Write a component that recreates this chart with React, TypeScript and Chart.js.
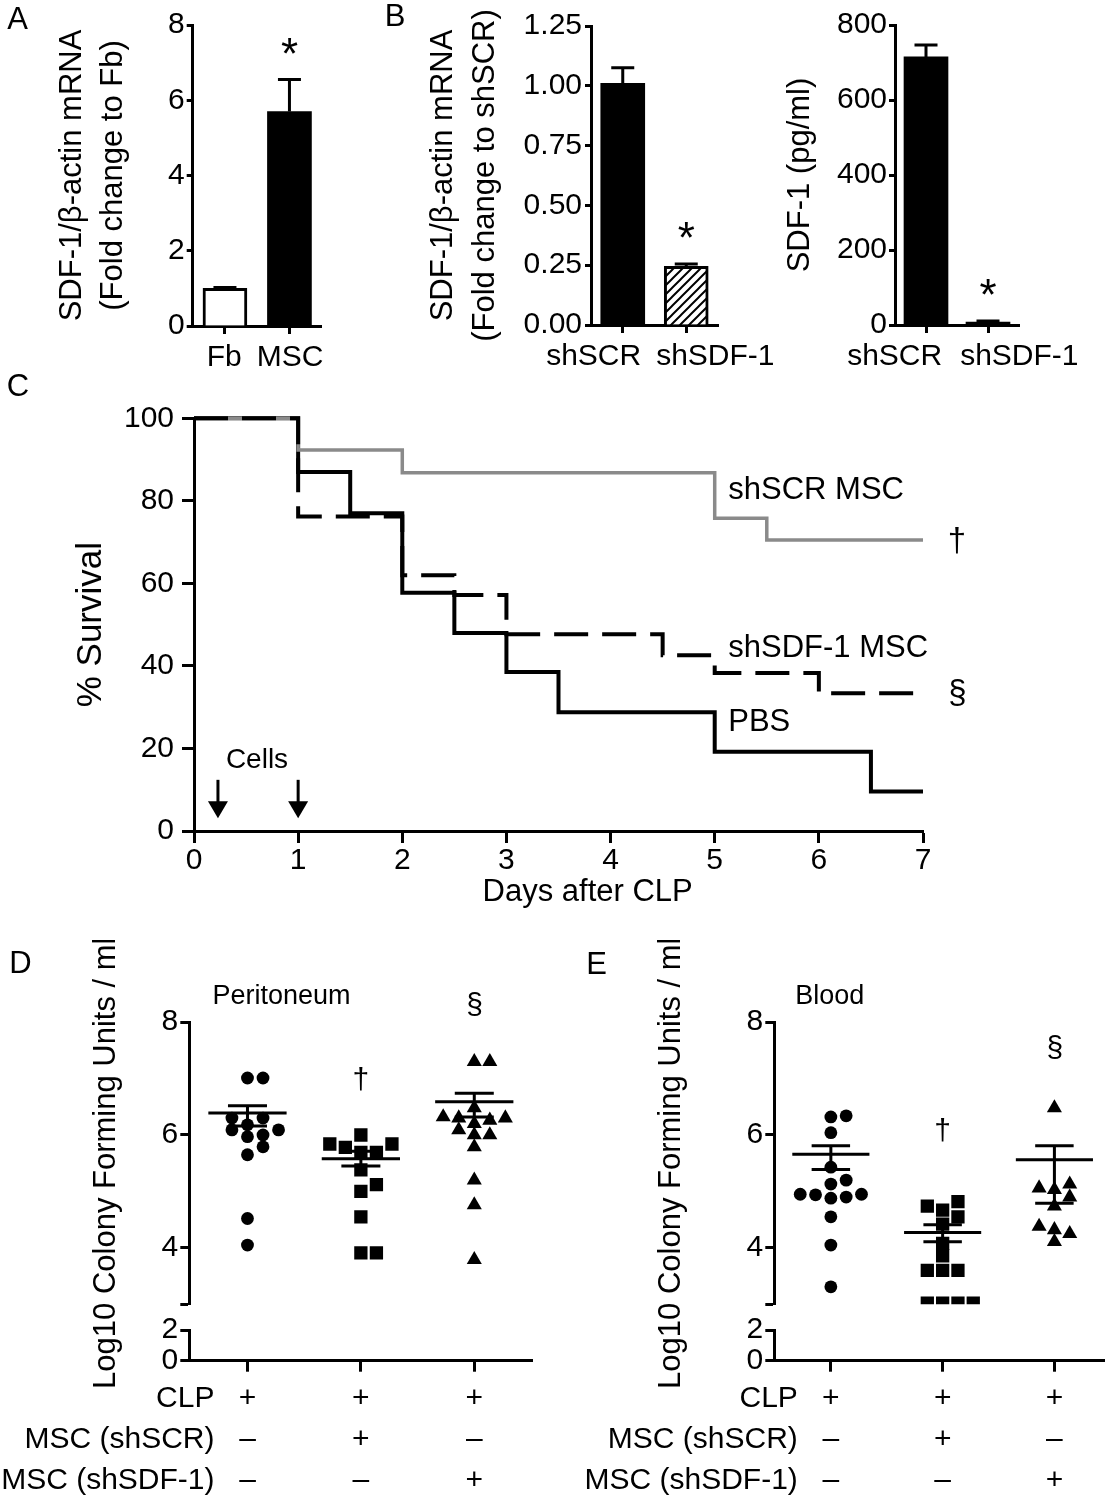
import React, { useEffect, useRef } from 'react';
import { Chart, registerables } from 'chart.js';

Chart.register(...registerables);

const FF = '"Liberation Sans", Arial, Helvetica, sans-serif';
const INK = '#000000';
const GREY = '#8a8a8a';
const TICK_PX = 30;

// ---------------- Panel A ----------------
const aLabels = ['Fb', 'MSC'];
const aValues = [1.0, 5.7];
const aErrors = [0.02, 0.85];
const aSignif = ['', '*'];
const aYTicks = [0, 2, 4, 6, 8];

// ---------------- Panel B ----------------
const bLabels = ['shSCR', 'shSDF-1'];
const bMrnaValues = [1.01, 0.245];
const bMrnaErrors = [0.065, 0.01];
const bMrnaSignif = ['', '*'];
const bMrnaTicks = [0, 0.25, 0.5, 0.75, 1.0, 1.25];
const bElisaValues = [715, 8];
const bElisaErrors = [32, 3];
const bElisaSignif = ['', '*'];
const bElisaTicks = [0, 200, 400, 600, 800];

// ---------------- Panel C ----------------
const pbsDays = [0, 1, 1.5, 2, 2.5, 3, 3.5, 5, 6.5, 7];
const pbsSurvival = [100, 87, 77, 57.7, 48, 38.5, 28.8, 19.2, 9.6, 9.6];
const scrDays = [0, 1, 2, 5, 5.5, 7];
const scrSurvival = [100, 92.3, 86.8, 75.8, 70.5, 70.5];
const sdfDays = [0, 1, 2, 2.5, 3, 4.5, 5, 6, 7];
const sdfSurvival = [100, 76.2, 62, 57.2, 47.7, 42.6, 38.3, 33.4, 33.4];
const cXTicks = [0, 1, 2, 3, 4, 5, 6, 7];
const cYTicks = [0, 20, 40, 60, 80, 100];
const cellInjectionDays = [0.23, 1];
const cSeriesLabels = [
  { text: 'shSCR MSC', x: 5.13, y: 82.6 },
  { text: 'shSDF-1 MSC', x: 5.13, y: 44.3 },
  { text: 'PBS', x: 5.13, y: 26.2 },
];
const cSignif = [
  { text: '†', x: 7.33, y: 70.5 },
  { text: '§', x: 7.33, y: 33.5 },
];

// ---------------- Panels D / E ----------------
const rowTitles = ['CLP', 'MSC (shSCR)', 'MSC (shSDF-1)'];
const rowCLP = ['+', '+', '+'];
const rowShSCR = ['–', '+', '–'];
const rowShSDF = ['–', '–', '+'];
const cfuUpperTicks = [3, 4, 6, 8];
const cfuLowerTicks = [0, 2];
const cfuBreakTick = 3;

const periPBS = [7.01, 7.01, 6.3, 6.3, 6.18, 6.09, 6.09, 6.0, 5.97, 5.79, 5.65, 4.52, 4.05];
const periShSCR = [6.0, 5.84, 5.84, 5.78, 5.69, 5.69, 5.38, 5.12, 5.0, 4.55, 3.91, 3.91];
const periShSDF = [7.3, 7.3, 6.48, 6.32, 6.3, 6.3, 6.26, 6.2, 6.09, 6.0, 6.0, 5.79, 5.2, 4.76, 3.79];
const periMean = [6.39, 5.58, 6.59];
const periSemHigh = [6.52, 5.71, 6.74];
const periSemLow = [6.16, 5.45, 6.32];

const bloodPBS = [6.34, 6.32, 6.04, 5.43, 5.2, 5.13, 4.95, 4.9, 4.88, 4.94, 4.95, 4.55, 4.05, 3.31];
const bloodShSCR = [4.82, 4.74, 4.67, 4.55, 4.42, 4.08, 3.86, 3.6, 3.6, 3.6, 3.02, 3.02, 3.02, 3.02];
const bloodShSDF = [6.48, 5.13, 5.03, 5.06, 4.9, 4.74, 4.38, 4.32, 4.25, 4.11];
const bloodMean = [5.66, 4.27, 5.56];
const bloodSemHigh = [5.81, 4.41, 5.81];
const bloodSemLow = [5.39, 4.11, 4.79];

const panelLetters = [
  { t: 'A', x: 17.5, y: 17.5 },
  { t: 'B', x: 395, y: 15 },
  { t: 'C', x: 18, y: 385 },
  { t: 'D', x: 20.5, y: 962 },
  { t: 'E', x: 596.5, y: 963 },
];

// ---------------- helpers ----------------
function font(size: number, lh = 1.2) {
  return { family: FF, size, lineHeight: lh, weight: 'normal' as any };
}
function tickGrid(len: number, extra: any = {}) {
  return { display: true, drawOnChartArea: false, drawTicks: true, tickLength: len, tickWidth: 3, color: INK, tickColor: INK, ...extra };
}
const axisLine = { display: true, color: INK, width: 3 };

function inkCentered(ctx: CanvasRenderingContext2D, text: string, cx: number, cy: number) {
  ctx.textAlign = 'left';
  ctx.textBaseline = 'alphabetic';
  const m = ctx.measureText(text);
  const l = m.actualBoundingBoxLeft, r = m.actualBoundingBoxRight;
  const a = m.actualBoundingBoxAscent, d = m.actualBoundingBoxDescent;
  ctx.fillText(text, cx - (r - l) / 2, cy + (a - d) / 2);
}

function hatchPattern(): any {
  const s = 9;
  const c = document.createElement('canvas');
  c.width = s; c.height = s;
  const g = c.getContext('2d')!;
  g.fillStyle = '#ffffff';
  g.fillRect(0, 0, s, s);
  g.strokeStyle = INK;
  g.lineWidth = 2;
  g.beginPath();
  g.moveTo(-1, s + 1); g.lineTo(s + 1, -1);
  g.moveTo(-s / 2 - 1, s / 2 + 1); g.lineTo(s / 2 + 1, -s / 2 - 1);
  g.moveTo(s / 2 - 1, s * 1.5 + 1); g.lineTo(s * 1.5 + 1, s / 2 - 1);
  g.stroke();
  return g.createPattern(c, 'repeat');
}

function barErrorPlugin(errors: number[], signif: string[]) {
  return {
    id: 'barErrors',
    afterDatasetsDraw(chart: any) {
      const ctx: CanvasRenderingContext2D = chart.ctx;
      const ys = chart.scales.y;
      const meta = chart.getDatasetMeta(0);
      const vals = chart.data.datasets[0].data;
      ctx.save();
      ctx.strokeStyle = INK;
      ctx.fillStyle = INK;
      ctx.lineWidth = 3;
      meta.data.forEach((bar: any, i: number) => {
        const yv = ys.getPixelForValue(vals[i]);
        const yt = ys.getPixelForValue(vals[i] + errors[i]);
        ctx.beginPath();
        ctx.moveTo(bar.x, yv);
        ctx.lineTo(bar.x, yt);
        ctx.moveTo(bar.x - 11.5, yt);
        ctx.lineTo(bar.x + 11.5, yt);
        ctx.stroke();
        if (signif[i]) {
          ctx.font = `44px ${FF}`;
          inkCentered(ctx, signif[i], bar.x, yt - 34);
        }
      });
      ctx.restore();
    },
  };
}

// category labels under the bars; pushed apart symmetrically when they would touch
function spreadLabelsPlugin(gap: number) {
  return {
    id: 'spreadLabels',
    afterDraw(chart: any) {
      const ctx: CanvasRenderingContext2D = chart.ctx;
      const x = chart.scales.x;
      const labels: string[] = chart.data.labels;
      ctx.save();
      ctx.font = `${TICK_PX}px ${FF}`;
      ctx.fillStyle = INK;
      ctx.textAlign = 'center';
      ctx.textBaseline = 'middle';
      const centers = labels.map((_l, i) => x.getPixelForTick(i));
      const widths = labels.map(l => ctx.measureText(l).width);
      const need = (widths[0] + widths[1]) / 2 + gap;
      const dist = centers[1] - centers[0];
      if (dist < need) {
        const mid = (centers[0] + centers[1]) / 2;
        centers[0] = mid - need / 2;
        centers[1] = mid + need / 2;
      }
      const y = chart.chartArea.bottom + 31.5;
      labels.forEach((l, i) => ctx.fillText(l, centers[i], y));
      ctx.restore();
    },
  };
}

function barConfig(s: any) {
  return {
    type: 'bar',
    data: {
      labels: s.labels,
      datasets: [{
        data: s.values,
        backgroundColor: s.fills,
        borderColor: INK,
        borderWidth: s.borderWidths,
        barThickness: 44,
      }],
    },
    options: {
      animation: false,
      responsive: false,
      devicePixelRatio: 1,
      events: [],
      layout: { padding: { left: s.padLeft, top: s.top, right: s.padRight, bottom: 0 } },
      plugins: { legend: { display: false }, tooltip: { enabled: false } },
      scales: {
        x: {
          type: 'category',
          offset: true,
          grid: tickGrid(8, { offset: false }),
          border: axisLine,
          ticks: { display: false },
          afterFit: (sc: any) => { sc.height = s.xHeight; },
        },
        y: {
          type: 'linear',
          min: s.ticks[0],
          max: s.ticks[s.ticks.length - 1],
          afterBuildTicks: (sc: any) => { sc.ticks = s.ticks.map((v: number) => ({ value: v })); },
          grid: tickGrid(6),
          border: axisLine,
          ticks: { font: font(TICK_PX), color: INK, padding: s.tickPad, autoSkip: false, callback: (v: any) => s.fmt(Number(v)) },
          title: { display: true, text: s.title, font: font(31, s.titleLH / 31), color: INK, padding: 0 },
          afterFit: (sc: any) => { sc.width = s.yWidth; },
        },
      },
    },
    plugins: [barErrorPlugin(s.errors, s.signif), spreadLabelsPlugin(s.labelGap)],
  };
}

function buildA() {
  return barConfig({
    labels: aLabels, values: aValues, errors: aErrors, signif: aSignif, ticks: aYTicks,
    fmt: (v: number) => String(v), fills: ['#ffffff', INK], borderWidths: [3, 0],
    title: ['SDF-1/β-actin mRNA', '(Fold change to Fb)'], titleLH: 41,
    padLeft: 51.5, yWidth: 141.2, top: 25, padRight: 48.3, xHeight: 54, tickPad: 2, labelGap: 15,
  });
}
function buildB1() {
  return barConfig({
    labels: bLabels, values: bMrnaValues, errors: bMrnaErrors, signif: bMrnaSignif, ticks: bMrnaTicks,
    fmt: (v: number) => v.toFixed(2), fills: [INK, hatchPattern()], borderWidths: [0, 3],
    title: ['SDF-1/β-actin mRNA', '(Fold change to shSCR)'], titleLH: 42,
    padLeft: 47.3, yWidth: 168.7, top: 26, padRight: 77, xHeight: 55, tickPad: 3, labelGap: 15,
  });
}
function buildB2() {
  return barConfig({
    labels: bLabels, values: bElisaValues, errors: bElisaErrors, signif: bElisaSignif, ticks: bElisaTicks,
    fmt: (v: number) => String(v), fills: [INK, INK], borderWidths: [0, 0],
    title: 'SDF-1 (pg/ml)', titleLH: 41,
    padLeft: 29.5, yWidth: 115.5, top: 25, padRight: 95, xHeight: 55, tickPad: 2, labelGap: 18,
  });
}

function toPts(xs: number[], ys: number[]) {
  return xs.map((x, i) => ({ x, y: ys[i] }));
}

function buildC() {
  const extras = {
    id: 'survivalExtras',
    afterDraw(chart: any) {
      const ctx: CanvasRenderingContext2D = chart.ctx;
      const x = chart.scales.x, y = chart.scales.y;
      ctx.save();
      ctx.fillStyle = INK;
      ctx.strokeStyle = INK;
      ctx.font = `31px ${FF}`;
      ctx.textAlign = 'left';
      ctx.textBaseline = 'middle';
      cSeriesLabels.forEach(l => ctx.fillText(l.text, x.getPixelForValue(l.x), y.getPixelForValue(l.y)));
      ctx.font = `33px ${FF}`;
      cSignif.forEach(l => inkCentered(ctx, l.text, x.getPixelForValue(l.x), y.getPixelForValue(l.y)));
      // cell injections
      ctx.font = `28px ${FF}`;
      ctx.textAlign = 'center';
      ctx.textBaseline = 'middle';
      ctx.fillText('Cells', x.getPixelForValue(0.605), y.getPixelForValue(17.2));
      cellInjectionDays.forEach(d => {
        const px = x.getPixelForValue(d);
        const y0 = y.getPixelForValue(12.4);
        const y1 = y.getPixelForValue(3.1);
        ctx.lineWidth = 3;
        ctx.beginPath();
        ctx.moveTo(px, y0);
        ctx.lineTo(px, y1 - 12);
        ctx.stroke();
        ctx.beginPath();
        ctx.moveTo(px - 10, y1 - 17);
        ctx.lineTo(px + 10, y1 - 17);
        ctx.lineTo(px, y1);
        ctx.closePath();
        ctx.fill();
      });
      // x-axis title
      ctx.font = `31px ${FF}`;
      ctx.textAlign = 'center';
      ctx.textBaseline = 'middle';
      ctx.fillText('Days after CLP', x.getPixelForValue(3.78), chart.chartArea.bottom + 61);
      ctx.restore();
    },
  };
  const common = { stepped: 'before', pointRadius: 0, fill: false, borderCapStyle: 'butt', borderJoinStyle: 'miter', clip: false };
  return {
    type: 'line',
    data: {
      datasets: [
        { label: 'shSDF-1 MSC', data: toPts(sdfDays, sdfSurvival), borderColor: INK, borderWidth: 4, borderDash: [34, 14], ...common },
        { label: 'shSCR MSC', data: toPts(scrDays, scrSurvival), borderColor: GREY, borderWidth: 3.5, ...common },
        { label: 'PBS', data: toPts(pbsDays, pbsSurvival), borderColor: INK, borderWidth: 4, ...common },
      ],
    },
    options: {
      animation: false,
      responsive: false,
      devicePixelRatio: 1,
      events: [],
      layout: { padding: { left: 71, top: 43.3, right: 191, bottom: 0 } },
      plugins: { legend: { display: false }, tooltip: { enabled: false } },
      scales: {
        x: {
          type: 'linear', min: 0, max: 7,
          afterBuildTicks: (sc: any) => { sc.ticks = cXTicks.map(v => ({ value: v })); },
          grid: tickGrid(12),
          border: axisLine,
          ticks: { font: font(TICK_PX), color: INK, padding: 0, maxRotation: 0, autoSkip: false },
          afterFit: (sc: any) => { sc.height = 89; },
        },
        y: {
          type: 'linear', min: 0, max: 100,
          afterBuildTicks: (sc: any) => { sc.ticks = cYTicks.map(v => ({ value: v })); },
          grid: tickGrid(12),
          border: axisLine,
          ticks: { font: font(TICK_PX), color: INK, padding: 8, autoSkip: false },
          title: { display: true, text: '% Survival', font: font(35, 40 / 35), color: INK, padding: 0 },
          afterFit: (sc: any) => { sc.width = 123; },
        },
      },
    },
    plugins: [extras],
  };
}

// simple beeswarm: place each value in the nearest free column slot
function swarm(values: number[], center: number) {
  const slot = 0.137;
  const minDy = 0.2;
  const order = values.map((_v, i) => i).sort((a, b) => values[a] - values[b]);
  const placed: { v: number; s: number }[] = [];
  const out: any[] = new Array(values.length);
  const candidates = [0, 1, -1, 2, -2, 3, -3, 4, -4];
  for (const i of order) {
    const v = values[i];
    for (const s of candidates) {
      if (placed.every(p => p.s !== s || Math.abs(p.v - v) >= minDy)) {
        placed.push({ v, s });
        out[i] = { x: center + s * slot, y: v };
        break;
      }
    }
  }
  return out;
}

function cfuConfig(s: any) {
  const styles = ['circle', 'rect', 'triangle'];
  const radii = [6.4, 9.4, 8.7];
  const datasets = s.groups.map((vals: number[], g: number) => ({
    data: swarm(vals, g + 1),
    pointStyle: styles[g],
    pointRadius: radii[g],
    pointBackgroundColor: INK,
    pointBorderColor: INK,
    pointBorderWidth: 0,
    showLine: false,
  }));
  const lh = 41;
  const extras = {
    id: 'cfuExtras',
    afterDatasetsDraw(chart: any) {
      const ctx: CanvasRenderingContext2D = chart.ctx;
      const x = chart.scales.x, y = chart.scales.y;
      ctx.save();
      ctx.strokeStyle = INK;
      ctx.lineWidth = 3;
      for (let g = 0; g < 3; g++) {
        const c = g + 1;
        const cx = x.getPixelForValue(c);
        ctx.beginPath();
        ctx.moveTo(x.getPixelForValue(c - 0.345), y.getPixelForValue(s.mean[g]));
        ctx.lineTo(x.getPixelForValue(c + 0.345), y.getPixelForValue(s.mean[g]));
        ctx.moveTo(cx, y.getPixelForValue(s.low[g]));
        ctx.lineTo(cx, y.getPixelForValue(s.high[g]));
        ctx.moveTo(x.getPixelForValue(c - 0.172), y.getPixelForValue(s.high[g]));
        ctx.lineTo(x.getPixelForValue(c + 0.172), y.getPixelForValue(s.high[g]));
        ctx.moveTo(x.getPixelForValue(c - 0.172), y.getPixelForValue(s.low[g]));
        ctx.lineTo(x.getPixelForValue(c + 0.172), y.getPixelForValue(s.low[g]));
        ctx.stroke();
      }
      ctx.restore();
    },
    afterDraw(chart: any) {
      const ctx: CanvasRenderingContext2D = chart.ctx;
      const x = chart.scales.x, y = chart.scales.y;
      const ca = chart.chartArea;
      ctx.save();
      ctx.fillStyle = INK;
      ctx.font = `${TICK_PX}px ${FF}`;
      ctx.textAlign = 'right';
      ctx.textBaseline = 'middle';
      const rx = x.getPixelForValue(1) - 33;
      rowTitles.forEach((t, i) => ctx.fillText(t, rx, ca.bottom + 11 + 7 + lh / 2 + i * lh));
      ctx.font = `27px ${FF}`;
      ctx.textAlign = 'center';
      ctx.fillText(s.subtitle.text, x.getPixelForValue(s.subtitle.x), y.getPixelForValue(s.subtitle.y));
      ctx.font = `30px ${FF}`;
      s.marks.forEach((m: any) => inkCentered(ctx, m.text, x.getPixelForValue(m.x), y.getPixelForValue(m.y)));
      ctx.restore();
    },
  };
  const yTickCommon = { font: font(TICK_PX), color: INK, padding: 2, autoSkip: false };
  return {
    type: 'scatter',
    data: { datasets },
    options: {
      animation: false,
      responsive: false,
      devicePixelRatio: 1,
      events: [],
      layout: { padding: { left: s.padLeft, top: 82.1, right: s.padRight, bottom: 0 } },
      plugins: { legend: { display: false }, tooltip: { enabled: false } },
      scales: {
        x: {
          type: 'linear', position: 'bottom', min: s.xMin, max: s.xMax,
          afterBuildTicks: (sc: any) => { sc.ticks = [1, 2, 3].map(v => ({ value: v })); },
          grid: tickGrid(11),
          border: axisLine,
          ticks: {
            font: font(TICK_PX, lh / TICK_PX), color: INK, padding: 7, maxRotation: 0, autoSkip: false,
            callback: (_v: any, i: number) => [rowCLP[i], rowShSCR[i], rowShSDF[i]],
          },
          afterFit: (sc: any) => { sc.height = 139.3; },
        },
        y: {
          type: 'linear', position: 'left', stack: 'cfu', stackWeight: 282.2, weight: 3,
          min: 3, max: 8,
          afterBuildTicks: (sc: any) => { sc.ticks = cfuUpperTicks.map(v => ({ value: v })); },
          grid: tickGrid(9),
          border: axisLine,
          ticks: { ...yTickCommon, callback: (v: any) => (Number(v) === cfuBreakTick ? '' : String(v)) },
          title: { display: true, text: 'Log10 Colony Forming Units / ml', font: font(31, 38 / 31), color: INK, padding: 0 },
          afterFit: (sc: any) => { sc.width = s.yWidth; },
        },
        yGap: {
          type: 'linear', position: 'left', stack: 'cfu', stackWeight: 25.7, weight: 2,
          min: 0, max: 1,
          grid: { display: false },
          border: { display: false },
          ticks: { display: false },
          afterFit: (sc: any) => { sc.width = s.yWidth; },
        },
        yLow: {
          type: 'linear', position: 'left', stack: 'cfu', stackWeight: 30.7, weight: 1,
          min: 0, max: 2,
          afterBuildTicks: (sc: any) => { sc.ticks = cfuLowerTicks.map(v => ({ value: v })); },
          grid: tickGrid(9),
          border: axisLine,
          ticks: { ...yTickCommon, callback: (v: any) => String(v) },
          afterFit: (sc: any) => { sc.width = s.yWidth; },
        },
      },
    },
    plugins: [extras],
  };
}

function buildD() {
  return cfuConfig({
    groups: [periPBS, periShSCR, periShSDF],
    mean: periMean, high: periSemHigh, low: periSemLow,
    subtitle: { text: 'Peritoneum', x: 1.3, y: 8.45 },
    marks: [{ text: '†', x: 2, y: 7.0 }, { text: '§', x: 3, y: 8.32 }],
    xMin: 0.487, xMax: 3.509, padLeft: 87, yWidth: 102.3, padRight: 25,
  });
}
function buildE() {
  return cfuConfig({
    groups: [bloodPBS, bloodShSCR, bloodShSDF],
    mean: bloodMean, high: bloodSemHigh, low: bloodSemLow,
    subtitle: { text: 'Blood', x: 0.99, y: 8.45 },
    marks: [{ text: '†', x: 2, y: 6.09 }, { text: '§', x: 3, y: 7.56 }],
    xMin: 0.494, xMax: 3.449, padLeft: 95.5, yWidth: 121.8, padRight: 2,
  });
}

function ChartBox(props: { left: number; top: number; width: number; height: number; build: () => any }) {
  const ref = useRef<HTMLCanvasElement | null>(null);
  useEffect(() => {
    if (!ref.current) return;
    const chart = new Chart(ref.current, props.build());
    return () => chart.destroy();
  }, []);
  return (
    <canvas
      ref={ref}
      width={props.width}
      height={props.height}
      style={{ position: 'absolute', left: props.left, top: props.top, width: props.width, height: props.height }}
    />
  );
}

export default function App() {
  return (
    <div style={{ position: 'absolute', left: 0, top: 0, width: 1114, height: 1500, background: '#ffffff', fontFamily: FF, overflow: 'hidden' }}>
      <ChartBox left={0} top={0} width={370} height={380} build={buildA} />
      <ChartBox left={375} top={0} width={420} height={380} build={buildB1} />
      <ChartBox left={750} top={0} width={364} height={380} build={buildB2} />
      <ChartBox left={0} top={375} width={1114} height={545} build={buildC} />
      <ChartBox left={0} top={940} width={557} height={560} build={buildD} />
      <ChartBox left={557} top={940} width={557} height={560} build={buildE} />
      {panelLetters.map(p => (
        <div
          key={p.t}
          style={{ position: 'absolute', left: p.x, top: p.y, transform: 'translate(-50%, -50%)', fontSize: 31, lineHeight: 1, color: INK, fontFamily: FF }}
        >
          {p.t}
        </div>
      ))}
    </div>
  );
}
